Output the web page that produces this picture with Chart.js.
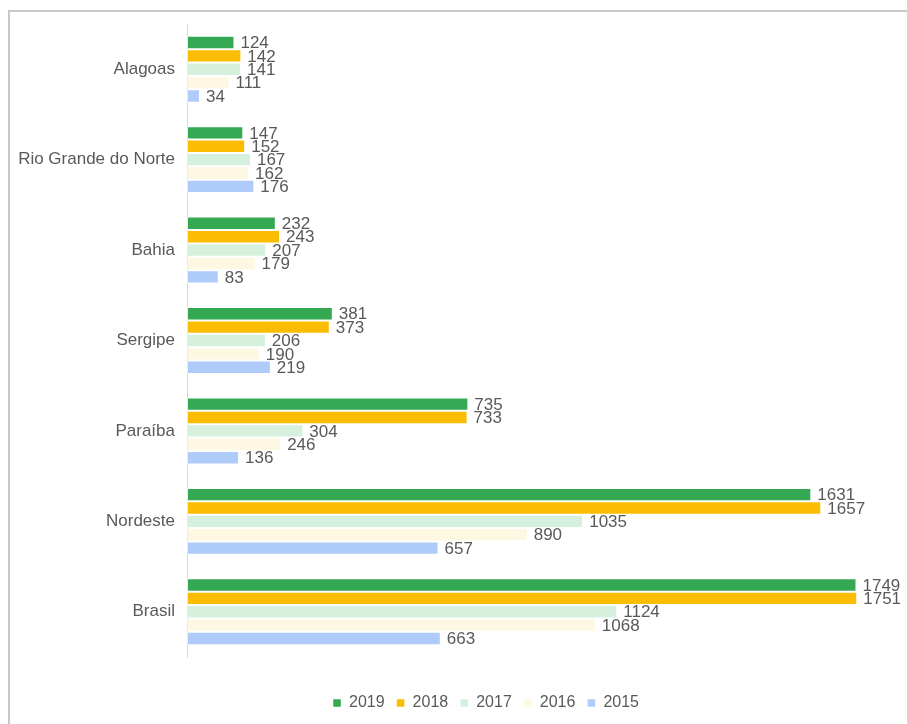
<!DOCTYPE html>
<html>
<head>
<meta charset="utf-8">
<script src="https://cdn.jsdelivr.net/npm/chart.js@4.4.0/dist/chart.umd.min.js"></script>
<style>
  html, body { margin: 0; padding: 0; background: #fff; }
  #wrap { position: relative; width: 907px; height: 724px; overflow: hidden; }
  #frame { position: absolute; left: 8px; top: 10px; width: 1000px; height: 800px;
           border-left: 2px solid #c8c8c8; border-top: 2px solid #c8c8c8; }
  #chartBox { position: absolute; left: 0; top: 0; width: 907px; height: 724px; }
</style>
</head>
<body>
<div id="wrap">
  <div id="frame"></div>
  <div id="chartBox"><canvas id="barChart"></canvas></div>
</div>
<script>
// data
const categories = ["Alagoas", "Rio Grande do Norte", "Bahia", "Sergipe", "Paraíba", "Nordeste", "Brasil"];
const values2019 = [124, 147, 232, 381, 735, 1631, 1749];
const values2018 = [142, 152, 243, 373, 733, 1657, 1751];
const values2017 = [141, 167, 207, 206, 304, 1035, 1124];
const values2016 = [111, 162, 179, 190, 246, 890, 1068];
const values2015 = [34, 176, 83, 219, 136, 657, 663];

const textColor = "#595959";
const fontFamily = "'Liberation Sans', Arial, sans-serif";

// draws the value at the end of each bar
const valueLabels = {
  id: "valueLabels",
  afterDatasetsDraw(chart) {
    const c = chart.ctx;
    c.save();
    c.font = "17px " + fontFamily;
    c.fillStyle = textColor;
    c.textAlign = "left";
    c.textBaseline = "middle";
    chart.data.datasets.forEach((ds, i) => {
      chart.getDatasetMeta(i).data.forEach((bar, j) => {
        c.fillText(ds.data[j], bar.x + 6, bar.y + 1);
      });
    });
    c.restore();
  },
};

// legend sits a bit right of the canvas centre in the original
const shiftLegend = {
  id: "shiftLegend",
  afterLayout(chart) {
    chart.legend.left += 48;
    chart.legend.right += 48;
  },
};

const ctx = document.getElementById("barChart").getContext("2d");
const barChart = new Chart(ctx, {
  type: "bar",
  data: {
    labels: categories,
    datasets: [
      { label: "2019", data: values2019, backgroundColor: "#34A853" },
      { label: "2018", data: values2018, backgroundColor: "#FBBC04" },
      { label: "2017", data: values2017, backgroundColor: "#D5F0DD" },
      { label: "2016", data: values2016, backgroundColor: "#FEF7E2" },
      { label: "2015", data: values2015, backgroundColor: "#AECBFA" },
    ].map((d) => Object.assign(d, {
      borderColor: "rgba(255,255,255,0.5)",
      borderWidth: 1,
      borderSkipped: false,
      barPercentage: 1,
      categoryPercentage: 0.74,
    })),
  },
  options: {
    indexAxis: "y",
    responsive: true,
    maintainAspectRatio: false,
    animation: false,
    layout: { padding: { top: 24, right: 31, bottom: 3, left: 0 } },
    scales: {
      x: {
        min: 0,
        max: 1800,
        grid: { display: false },
        border: { display: false },
        ticks: { display: false },
        afterFit(scale) {
          scale.height = 26;
        },
      },
      y: {
        grid: { display: false },
        border: { display: true, color: "#d9d9d9", width: 1 },
        ticks: {
          color: textColor,
          font: { size: 17, family: fontFamily },
          padding: 4,
        },
        afterFit(scale) {
          scale.width = 187;
        },
      },
    },
    plugins: {
      legend: {
        position: "bottom",
        labels: {
          boxWidth: 8,
          boxHeight: 8,
          padding: 12,
          color: textColor,
          font: { size: 16, family: fontFamily },
        },
      },
      tooltip: { enabled: false },
    },
  },
  plugins: [valueLabels, shiftLegend],
});
</script>
</body>
</html>
